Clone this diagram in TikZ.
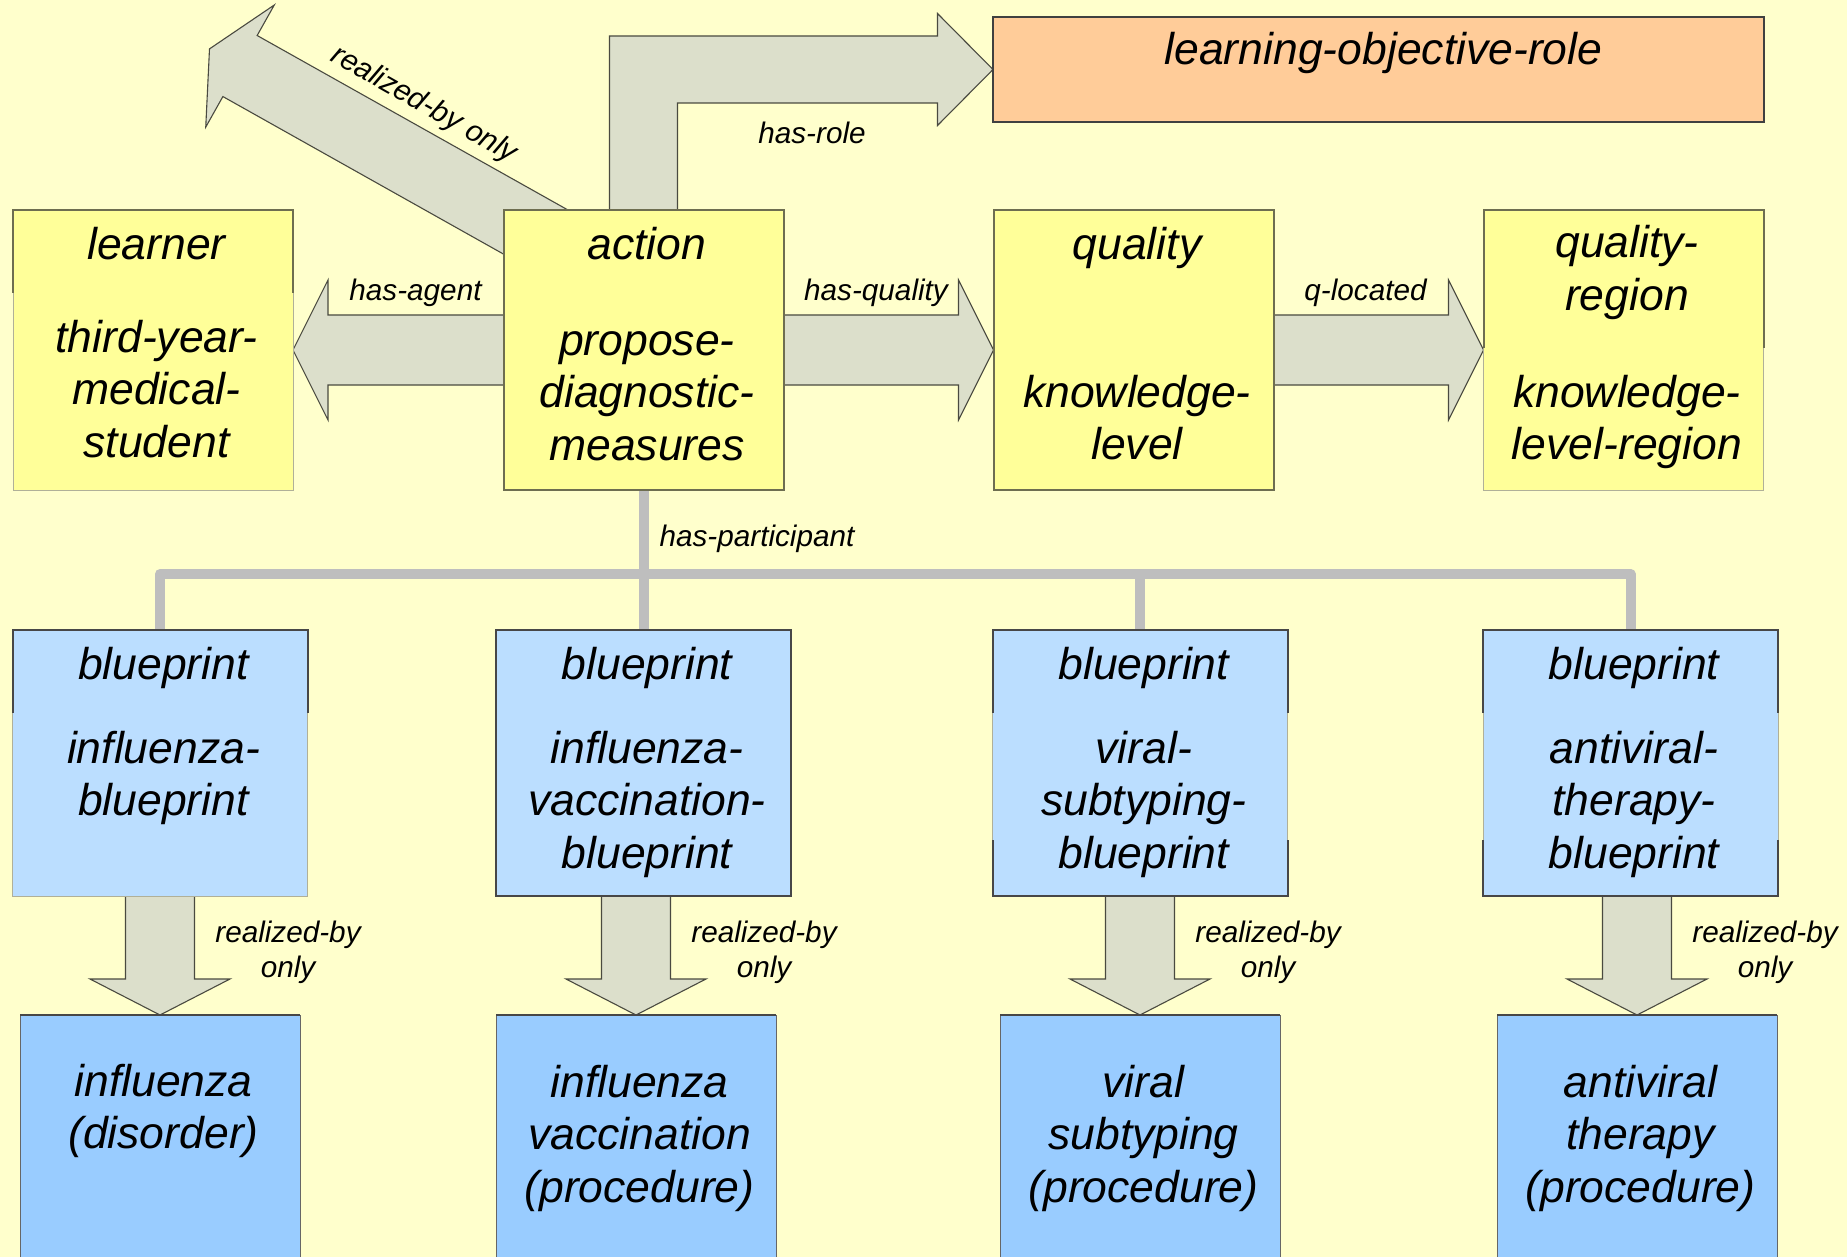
\documentclass[tikz,border=0pt]{standalone}
\usepackage{fontspec}
\setmainfont{Liberation Sans}
\usetikzlibrary{calc}

\definecolor{bgcol}{HTML}{FFFFCC}
\definecolor{yfill}{HTML}{FFFF99}
\definecolor{ofill}{HTML}{FFCC99}
\definecolor{bpfill}{HTML}{BBDEFF}
\definecolor{tgfill}{HTML}{99CCFF}
\definecolor{afill}{HTML}{DCDFCB}
\definecolor{aline}{HTML}{4A4A40}
\definecolor{dkedge}{HTML}{6E6E50}
\definecolor{ltedge}{HTML}{B0B098}
\definecolor{conn}{HTML}{BEBEBE}

\pgfdeclarelayer{bglayer}
\pgfdeclarelayer{back}
\pgfsetlayers{bglayer,back,main}

\newcommand\boxfont{\fontsize{22.25pt}{26.25pt}\selectfont\itshape}
\newcommand\lblfont{\fontsize{14.85pt}{17.5pt}\selectfont\itshape}

% block arrow: #1 tail, #2 tip, #3 shaft half width, #4 head half width, #5 head length
\newcommand\blockarrow[5]{%
  \coordinate (ba-b) at ($(#2)!#5!(#1)$);
  \filldraw[arrowbody] ($(#1)!#3!90:(#2)$) -- ($(ba-b)!#3!90:(#2)$)
    -- ($(ba-b)!#4!90:(#2)$) -- (#2) -- ($(ba-b)!#4!-90:(#2)$)
    -- ($(ba-b)!#3!-90:(#2)$) -- ($(#1)!#3!-90:(#2)$) -- cycle;
}

\tikzset{
  boxshape/.style={rectangle, inner sep=0pt, outer sep=0pt, draw=ltedge, line width=0.4pt},
  ybx/.style={boxshape, fill=yfill, minimum width=140pt, minimum height=140pt},
  obx/.style={boxshape, fill=ofill, draw=black!75, line width=0.6pt,
              minimum width=385.5pt, minimum height=52.5pt},
  bpbx/.style={boxshape, fill=bpfill, minimum width=147.5pt, minimum height=133pt},
  tgbx/.style={boxshape, fill=tgfill, draw=black!60, line width=0.5pt,
               minimum width=140pt, minimum height=150pt},
  boxtext/.style={font=\boxfont, align=center, inner sep=0pt, xshift=1.75pt},
  lbl/.style={font=\lblfont, inner sep=0pt},
  arrowbody/.style={fill=afill, draw=aline, line width=0.55pt, line join=miter},
  ydark/.style={draw=dkedge, line width=1pt},
  bdark/.style={draw=black!72, line width=1pt},
  partline/.style={draw=conn, line width=5pt, line cap=round, line join=round}
}

\begin{document}
\begin{tikzpicture}[x=0.5pt, y=-0.5pt]
\useasboundingbox (0,0) rectangle (1847,1257);
\begin{pgfonlayer}{bglayer}
  \fill[bgcol] (0,0) rectangle (1847,1257);
\end{pgfonlayer}

% ---------- boxes ----------
\node[obx] (lor) at (1378.5,69.5) {};
\node[ybx] (learner) at (153,350) {};
\node[ybx] (action)  at (643.5,350) {};
\node[ybx] (quality) at (1133.5,350) {};
\node[ybx] (qregion) at (1623.5,350) {};

\node[bpbx] (bp1) at (160,763) {};
\node[bpbx] (bp2) at (643.5,763) {};
\node[bpbx] (bp3) at (1140.25,763) {};
\node[bpbx] (bp4) at (1630.5,763) {};

\node[tgbx] (tg1) at (160,1165) {};
\node[tgbx] (tg2) at (636,1165) {};
\node[tgbx] (tg3) at (1140,1165) {};
\node[tgbx] (tg4) at (1637,1165) {};

% darker outline segments of the boxes
\draw[ydark] (13,293) -- (13,210) -- (293,210) -- (293,293);
\draw[ydark] (action.south west) rectangle (action.north east);
\draw[ydark] (quality.south west) rectangle (quality.north east);
\draw[ydark] (1483.5,348) -- (1483.5,210) -- (1763.5,210) -- (1763.5,348);

\draw[bdark] (13,713) -- (13,630) -- (308,630) -- (308,713);
\draw[bdark] (bp2.south west) rectangle (bp2.north east);
\draw[bdark] (993,713) -- (993,630) -- (1287.5,630) -- (1287.5,713);
\draw[bdark] (993,840) -- (993,896) -- (1287.5,896) -- (1287.5,840);
\draw[bdark] (1483,713) -- (1483,630) -- (1778,630) -- (1778,713);
\draw[bdark] (1483,840) -- (1483,896) -- (1778,896) -- (1778,840);

\foreach \t in {tg1,tg2,tg3,tg4}
  \draw[black!72, line width=1.4pt] (\t.north west) -- (\t.north east);

% ---------- connectors ----------
\begin{pgfonlayer}{back}
  % realized-by only (up-left, free end)
  \coordinate (rtip) at (209.5,48.9);
  \coordinate (rtail) at (606,271.5);
  \blockarrow{rtail}{rtip}{17.5pt}{35pt}{17.5pt}

  % has-role (bent arrow)
  \coordinate (rc) at (action.north |- lor.west);
  \filldraw[arrowbody] ($(action.north)+(-34,10)$) -- ($(rc)+(-34,-33.5)$)
    -- ($(lor.west)+(-55.5,-33.5)$) -- ($(lor.west)+(-55.5,-56)$) -- (lor.west)
    -- ($(lor.west)+(-55.5,56)$) -- ($(lor.west)+(-55.5,33.5)$)
    -- ($(rc)+(34,33.5)$) -- ($(action.north)+(34,10)$) -- cycle;

  % has-agent, has-quality, q-located
  \coordinate (agtail) at ($(action.west)+(12,0)$);
  \blockarrow{agtail}{learner.east}{17.5pt}{35pt}{17.5pt}
  \coordinate (qutail) at ($(action.east)+(-12,0)$);
  \blockarrow{qutail}{quality.west}{17.5pt}{35pt}{17.5pt}
  \coordinate (qltail) at ($(quality.east)+(-12,0)$);
  \blockarrow{qltail}{qregion.west}{17.5pt}{35pt}{17.5pt}

  % realized-by only (blueprint -> target)
  \foreach \b/\t in {bp1/tg1,bp2/tg2,bp3/tg3,bp4/tg4}{
    \coordinate (dtail) at ($(\t.north |- \b.south)+(0,-12)$);
    \blockarrow{dtail}{\t.north}{17.25pt}{35pt}{18pt}
  }

  % has-participant tree
  \coordinate (pbar) at (0,574);
  \draw[partline] (action.south) -- (action.south |- pbar);
  \draw[partline] (bp1.north) -- (bp1.north |- pbar) -- (bp4.north |- pbar) -- (bp4.north);
  \draw[partline] (bp2.north) -- (bp2.north |- pbar);
  \draw[partline] (bp3.north) -- (bp3.north |- pbar);
\end{pgfonlayer}

% ---------- box texts ----------
\node[boxtext] (lor-t) at (1380,54.5) {learning-objective-role\strut};

\node[boxtext] (learner-c) at (153,249.5) {learner\strut};
\node[boxtext] (learner-i) at (153,394) {third-year-\strut\\medical-\strut\\student\strut};
\node[boxtext] (action-c) at (643.5,249.5) {action\strut};
\node[boxtext] (action-i) at (643.5,397) {propose-\strut\\diagnostic-\strut\\measures\strut};
\node[boxtext] (quality-c) at (1133.5,249.5) {quality\strut};
\node[boxtext] (quality-i) at (1133.5,422.75) {knowledge-\strut\\level\strut};
\node[boxtext] (qregion-c) at (1623.5,273.75) {quality-\strut\\region\strut};
\node[boxtext] (qregion-i) at (1623.5,422.75) {knowledge-\strut\\level-region\strut};

\foreach \b in {bp1,bp2,bp3,bp4}
  \node[boxtext] (\b-c) at (\b |- 0,668.5) {blueprint\strut};
\node[boxtext] (bp1-i) at (160,778.75) {influenza-\strut\\blueprint\strut};
\node[boxtext] (bp2-i) at (643.5,805) {influenza-\strut\\vaccination-\strut\\blueprint\strut};
\node[boxtext] (bp3-i) at (1140.25,805) {viral-\strut\\subtyping-\strut\\blueprint\strut};
\node[boxtext] (bp4-i) at (1630.5,805) {antiviral-\strut\\therapy-\strut\\blueprint\strut};

\node[boxtext] (tg1-t) at (160,1111.75) {influenza\strut\\(disorder)\strut};
\node[boxtext] (tg2-t) at (636,1139) {influenza\strut\\vaccination\strut\\(procedure)\strut};
\node[boxtext] (tg3-t) at (1140,1139) {viral\strut\\subtyping\strut\\(procedure)\strut};
\node[boxtext] (tg4-t) at (1637,1139) {antiviral\strut\\therapy\strut\\(procedure)\strut};

% ---------- connector labels ----------
\node[lbl, rotate=-29.5] (l-real) at (424,105) {realized-by only};
\node[lbl, anchor=base] (l-role) at (812,144) {has-role};
\node[lbl, anchor=base] (l-agent) at (415.5,300) {has-agent};
\node[lbl, anchor=base] (l-qual) at (876,300) {has-quality};
\node[lbl, anchor=base] (l-qloc) at (1365.5,300) {q-located};
\node[lbl, anchor=base] (l-part) at (757,546.7) {has-participant};
\foreach \t/\x in {tg1/288,tg2/764,tg3/1268,tg4/1765}
  \node[lbl, align=center] (\t-l) at (\x,952.5) {realized-by\strut\\only\strut};
\end{tikzpicture}
\end{document}
